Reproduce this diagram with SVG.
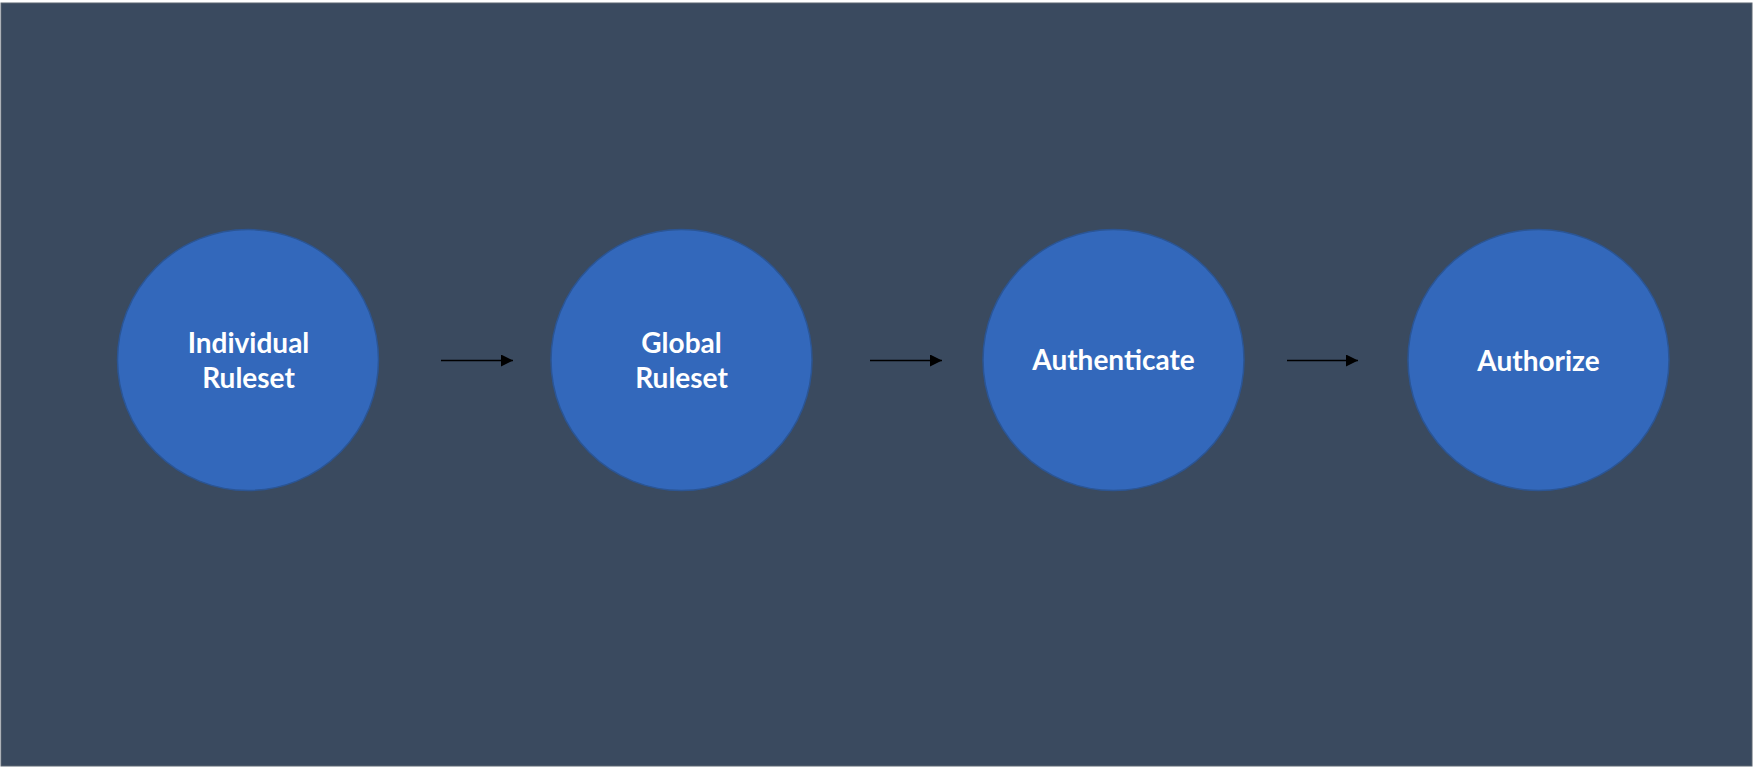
<svg xmlns="http://www.w3.org/2000/svg" width="1754" height="767" viewBox="0 0 1754 767">
<style>
.node{fill:#3368BB;stroke:#2B5594;stroke-width:1.5}
.lbl{font-family:Lato,"Open Sans","Liberation Sans",sans-serif;font-weight:700;font-size:28px;fill:#FFFFFF;text-anchor:middle}
.edge{stroke:#000000;stroke-width:1.4;fill:none}
</style>
<defs>
<marker id="ah" viewBox="0 0 12 12" refX="12" refY="6" markerWidth="12" markerHeight="12" markerUnits="userSpaceOnUse" orient="auto">
<path d="M0,0 L12,6 L0,12 Z" fill="#000000"/>
</marker>
</defs>
<rect x="0" y="0" width="1754" height="767" fill="#FFFFFF"/>
<rect x="1" y="3" width="1751" height="763" fill="#3A4A5F" stroke="#5A6470" stroke-width="1"/>
<g id="connectors">
<line class="edge" x1="441" y1="360.5" x2="513" y2="360.5" marker-end="url(#ah)"/>
<line class="edge" x1="870" y1="360.5" x2="942" y2="360.5" marker-end="url(#ah)"/>
<line class="edge" x1="1287" y1="360.5" x2="1358" y2="360.5" marker-end="url(#ah)"/>
</g>
<g id="node-individual">
<circle class="node" cx="248" cy="360" r="130.5"/>
<text class="lbl" x="248.5" y="352.5">Individual</text>
<text class="lbl" x="248.5" y="388">Ruleset</text>
</g>
<g id="node-global">
<circle class="node" cx="681.5" cy="360" r="130.5"/>
<text class="lbl" x="681.5" y="352.5">Global</text>
<text class="lbl" x="681.5" y="388">Ruleset</text>
</g>
<g id="node-authenticate">
<circle class="node" cx="1113.5" cy="360" r="130.5"/>
<text class="lbl" x="1113.5" y="370">Authenticate</text>
</g>
<g id="node-authorize">
<circle class="node" cx="1538.5" cy="360" r="130.5"/>
<text class="lbl" x="1538.5" y="370.5">Authorize</text>
</g>
</svg>
